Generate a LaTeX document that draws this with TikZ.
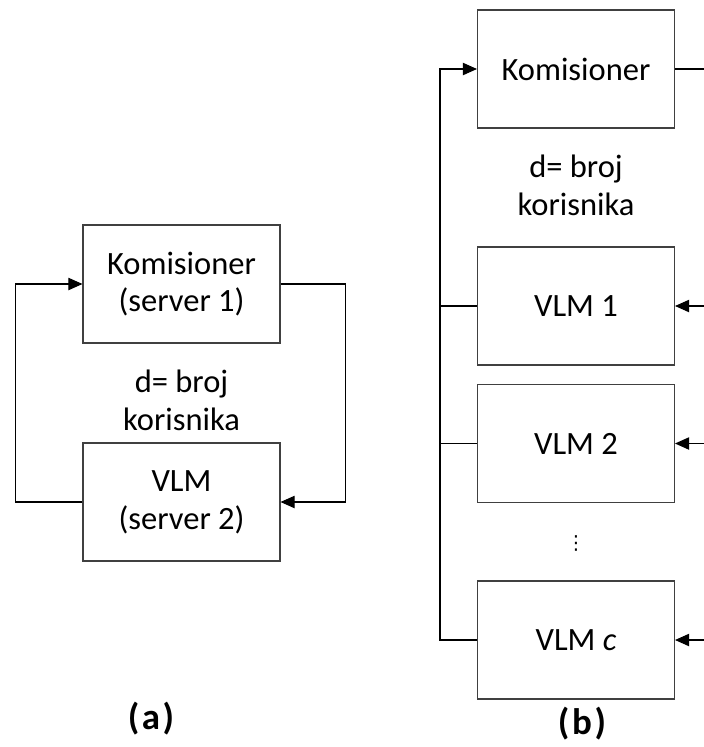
\documentclass[tikz,border=0pt]{standalone}
\usepackage{fontspec}
\setmainfont{Carlito}
\newfontfamily\symfont{DejaVu Sans}
\usepackage{tikz}
\usetikzlibrary{ % tikz packages
    positioning,
    arrows.meta
}
\tikzset{box/.style={
    draw=black!75,
    line width=0.6pt,
    minimum width=3.94cm,
    minimum height=2.36cm,
    align=center,
    font=\fontsize{18.5}{21.5}\selectfont
}}
\tikzset{lbl/.style={
    align=center,
    font=\fontsize{18.5}{21.5}\selectfont
}}
\tikzset{caption/.style={
    inner sep=1pt,
    font=\fontsize{21}{24}\selectfont\bfseries
}}
\tikzset{>={Triangle[length=8pt,width=7pt]}}

\begin{document}
\begin{tikzpicture}[on grid,line width=0.6pt]
        \useasboundingbox (0,0) rectangle (14.08,-14.94);

        % (a)
        \node[box] (kom1) at (3.63,-5.68) {Komisioner\\(server 1)};
        \node[box] (vlm) [below=4.36cm of kom1] {VLM\\(server 2)};
        \node[lbl] (d1) [below=2.32cm of kom1] {d= broj\\korisnika};
        \node[caption] (capa) at (3.02,-14.38) {(\kern1.5pt a\kern1.5pt)};

        \draw[->] (vlm.west) -- ++(-1.34,0) |- (kom1.west);
        \draw[->] (kom1.east) -- ++(1.3,0) |- (vlm.east);

        % (b)
        \node[box] (kom2) at (11.52,-1.38) {Komisioner};
        \node[lbl] (d2) [below=2.32cm of kom2] {d= broj\\korisnika};
        \node[box] (vlm1) [below=4.74cm of kom2] {VLM 1};
        \node[box] (vlm2) [below=2.75cm of vlm1] {VLM 2};
        \node[box] (vlmc) [below=3.93cm of vlm2] {VLM \textit{c}};
        \node (dots) [below=2.0cm of vlm2] {\symfont\fontsize{11}{13}\selectfont ⋮};
        \node[caption] (capb) at (11.64,-14.48) {(\kern1.5pt b\kern1.5pt)};
        \coordinate (edge) at (14.08,0);

        \draw[->] (vlmc.west) -- ++(-0.74,0) |- (kom2.west);
        \draw (vlm1.west) -- ++(-0.74,0);
        \draw (vlm2.west) -- ++(-0.74,0);

        \draw (kom2.east) -- (kom2.east -| edge);
        \draw[<-] (vlm1.east) -- (vlm1.east -| edge);
        \draw[<-] (vlm2.east) -- (vlm2.east -| edge);
        \draw[<-] (vlmc.east) -- (vlmc.east -| edge);
    \end{tikzpicture}
\end{document}
